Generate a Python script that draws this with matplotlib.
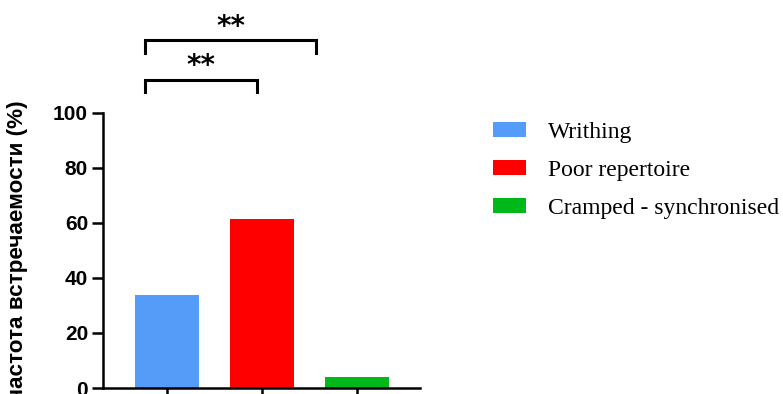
import matplotlib.pyplot as plt

groups = ['Writhing', 'Poor repertoire', 'Cramped - synchronised']
freq = [33.6, 61.4, 4.1]
colors = ['#559cf8', '#ff0000', '#00b81a']
yticks = [0, 20, 40, 60, 80, 100]

# significance brackets: (left group, right group, label)
pairs = [(0, 1, '**'), (0, 2, '**')]

fig = plt.figure(figsize=(7.83, 3.94), dpi=100)
ax = fig.add_axes([0.132, 0.0152, 0.4045, 0.699])

xpos = list(range(len(groups)))
for x, v, c, name in zip(xpos, freq, colors, groups):
    ax.bar(x, v, width=0.674, color=c, label=name)

ax.set_xlim(-0.674, 2.66)
ax.set_ylim(0, 100)
ax.set_yticks(yticks)
ax.set_xticks(xpos)
ax.set_xticklabels([])
for side in ('top', 'right'):
    ax.spines[side].set_visible(False)
for side in ('left', 'bottom'):
    ax.spines[side].set_linewidth(1.8)
ax.tick_params(axis='both', length=8, width=1.8)
ax.tick_params(axis='y', labelsize=15, pad=3)
for lab in ax.get_yticklabels():
    lab.set_fontweight('bold')
    lab.set_family('Liberation Sans')

fig.text(0.022, 0.363, 'частота встречаемости (%)', rotation=90,
         ha='center', va='center', fontsize=16.2, fontweight='bold',
         family='Liberation Sans')

# brackets above the bars, right ends set by hand
right_ends = {1: 0.94, 2: 1.565}
levels = [(111.9, 107.6, 116.8), (126.2, 121.8, 131.0)]
for (i, j, txt), (ytop, yleg, ystar) in zip(pairs, levels):
    x0 = xpos[i] - 0.235
    x1 = right_ends[j]
    ax.plot([x0, x0, x1, x1], [yleg, ytop, ytop, yleg], color='black',
            lw=2.2, clip_on=False, solid_joinstyle='miter')
    ax.text((x0 + x1) / 2, ystar, txt, ha='center', va='center',
            fontsize=20, fontweight='bold', clip_on=False)

ax.legend(loc='center left', bbox_to_anchor=(0.602, 0.567),
          bbox_transform=fig.transFigure, frameon=False,
          prop={'family': 'Liberation Serif', 'size': 17},
          handlelength=1.4, handleheight=0.6, handletextpad=0.95,
          labelspacing=0.72)

fig.savefig('out.png', dpi=100)
